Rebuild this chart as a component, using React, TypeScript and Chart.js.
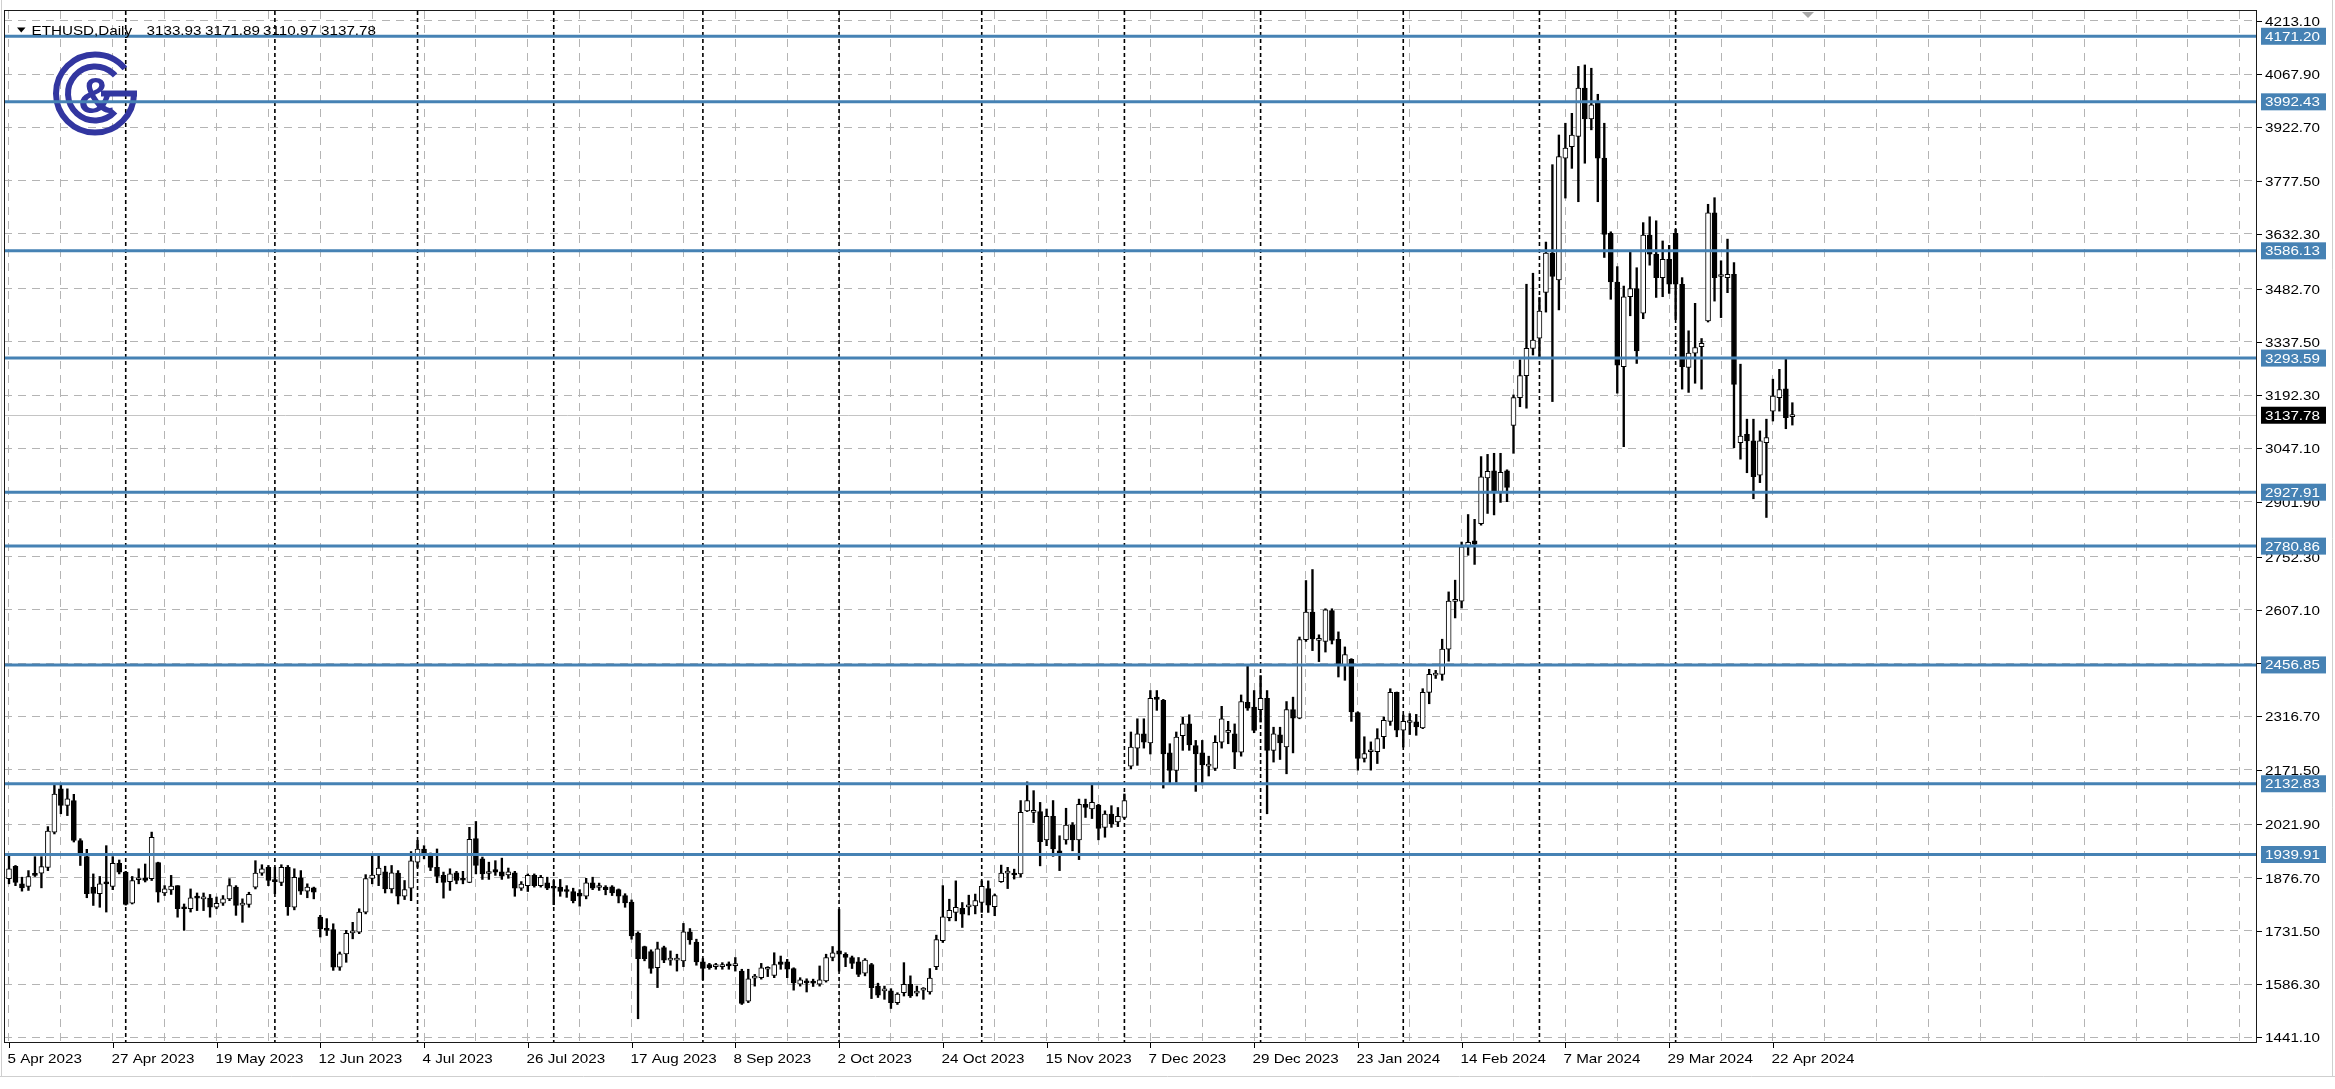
import React, { useEffect, useRef } from "react";
import { Chart, registerables } from "chart.js";

Chart.register(...registerables);

// ---------- data (daily ETHUSD, weekdays only) ----------
const opens = [
  1874, 1908, 1860, 1853, 1887, 1889, 1905, 2001, 2119, 2074,
  2087, 1978, 1934, 1851, 1833, 1862, 1853, 1916, 1892, 1807,
  1871, 1876, 1874, 1918, 1835, 1843, 1855, 1794, 1792, 1822,
  1819, 1821, 1796, 1807, 1819, 1851, 1802, 1804, 1851, 1889,
  1905, 1867, 1864, 1905, 1796, 1876, 1840, 1849, 1769, 1735,
  1735, 1633, 1669, 1726, 1728, 1783, 1875, 1884, 1893, 1846,
  1889, 1826, 1848, 1919, 1955, 1939, 1905, 1883, 1866, 1890,
  1872, 1864, 1983, 1928, 1888, 1899, 1893, 1884, 1890, 1848,
  1855, 1883, 1855, 1863, 1849, 1851, 1842, 1839, 1835, 1826,
  1863, 1850, 1851, 1852, 1844, 1828, 1810, 1725, 1689, 1675,
  1631, 1686, 1652, 1652, 1650, 1729, 1701, 1647, 1640, 1634,
  1634, 1640, 1637, 1622, 1540, 1603, 1604, 1627, 1610, 1647,
  1647, 1629, 1586, 1592, 1590, 1586, 1595, 1659, 1677, 1668,
  1659, 1647, 1616, 1640, 1581, 1568, 1568, 1536, 1563, 1586,
  1562, 1570, 1565, 1634, 1705, 1768, 1782, 1793, 1797, 1800,
  1809, 1847, 1798, 1866, 1889, 1889, 1887, 2059, 2055, 2057,
  1980, 2044, 1950, 1980, 2020, 1980, 2077, 2064, 2075, 2014,
  2050, 2029, 2041, 2181, 2230, 2269, 2244, 2369, 2360, 2217,
  2169, 2264, 2296, 2237, 2217, 2181, 2175, 2246, 2273, 2269,
  2219, 2355, 2342, 2335, 2366, 2224, 2266, 2233, 2335, 2312,
  2526, 2601, 2524, 2521, 2605, 2527, 2456, 2472, 2327, 2202,
  2220, 2220, 2261, 2303, 2382, 2279, 2300, 2302, 2285, 2382,
  2429, 2431, 2500, 2630, 2631, 2779, 2795, 2842, 2967, 2986,
  2928, 2986, 3110, 3186, 3246, 3320, 3348, 3473, 3580, 3507,
  3839, 3870, 3898, 4030, 3946, 3993, 3839, 3634, 3501, 3270,
  3461, 3483, 3416, 3629, 3577, 3513, 3563, 3634, 3495, 3268,
  3307, 3325, 3395, 3690, 3516, 3513, 3522, 3063, 3086, 3068,
  2974, 3063, 3149, 3186, 3210, 3133.93,
];
const highs = [
  1942, 1910, 1878, 1896, 1934, 1934, 2016, 2133, 2131, 2119,
  2104, 1983, 1954, 1887, 1880, 1964, 1934, 1925, 1894, 1880,
  1901, 1914, 2001, 1919, 1855, 1883, 1855, 1805, 1846, 1835,
  1835, 1831, 1824, 1828, 1874, 1855, 1819, 1837, 1923, 1912,
  1910, 1905, 1912, 1910, 1901, 1896, 1860, 1851, 1774, 1765,
  1751, 1674, 1733, 1755, 1792, 1885, 1937, 1939, 1908, 1910,
  1896, 1869, 1948, 1978, 1964, 1944, 1955, 1892, 1901, 1894,
  1894, 2014, 2030, 1933, 1919, 1923, 1930, 1903, 1894, 1866,
  1887, 1887, 1883, 1878, 1869, 1872, 1855, 1848, 1844, 1875,
  1878, 1862, 1855, 1855, 1846, 1833, 1816, 1729, 1690, 1680,
  1701, 1690, 1677, 1668, 1752, 1738, 1709, 1656, 1643, 1643,
  1645, 1647, 1659, 1627, 1627, 1613, 1643, 1634, 1672, 1663,
  1654, 1631, 1604, 1601, 1600, 1636, 1668, 1689, 1790, 1672,
  1663, 1659, 1656, 1643, 1589, 1581, 1574, 1563, 1645, 1609,
  1581, 1577, 1629, 1720, 1855, 1818, 1868, 1809, 1829, 1832,
  1868, 1868, 1832, 1911, 1905, 1900, 2087, 2138, 2114, 2082,
  2064, 2087, 1991, 2066, 2027, 2091, 2091, 2132, 2077, 2059,
  2073, 2068, 2105, 2274, 2310, 2310, 2387, 2387, 2363, 2242,
  2274, 2314, 2321, 2251, 2251, 2208, 2264, 2344, 2303, 2296,
  2375, 2455, 2387, 2428, 2387, 2287, 2287, 2357, 2369, 2533,
  2687, 2717, 2539, 2610, 2610, 2547, 2506, 2474, 2329, 2261,
  2247, 2283, 2315, 2392, 2383, 2320, 2324, 2322, 2392, 2445,
  2442, 2527, 2656, 2688, 2792, 2867, 2854, 3025, 3031, 3034,
  3034, 2989, 3193, 3289, 3495, 3525, 3459, 3610, 3821, 3902,
  3934, 3961, 4089, 4093, 4084, 4013, 3934, 3638, 3543, 3490,
  3586, 3540, 3663, 3679, 3668, 3613, 3601, 3645, 3513, 3368,
  3443, 3347, 3713, 3731, 3559, 3618, 3554, 3277, 3127, 3127,
  3095, 3127, 3236, 3263, 3292, 3171.89,
];
const lows = [
  1860, 1855, 1840, 1842, 1880, 1849, 1896, 1996, 2051, 2046,
  1974, 1910, 1822, 1801, 1796, 1783, 1844, 1887, 1802, 1805,
  1860, 1865, 1869, 1810, 1828, 1831, 1769, 1733, 1783, 1787,
  1787, 1769, 1792, 1801, 1814, 1774, 1755, 1796, 1846, 1883,
  1855, 1833, 1855, 1774, 1789, 1831, 1822, 1819, 1715, 1719,
  1624, 1624, 1646, 1710, 1724, 1778, 1860, 1855, 1835, 1835,
  1805, 1817, 1814, 1905, 1928, 1896, 1863, 1821, 1842, 1860,
  1860, 1863, 1887, 1872, 1872, 1883, 1872, 1875, 1826, 1842,
  1839, 1851, 1851, 1844, 1803, 1826, 1823, 1808, 1799, 1819,
  1844, 1842, 1830, 1828, 1808, 1796, 1709, 1492, 1650, 1616,
  1577, 1645, 1638, 1622, 1634, 1695, 1638, 1598, 1627, 1627,
  1627, 1627, 1622, 1531, 1536, 1581, 1600, 1607, 1604, 1627,
  1604, 1570, 1581, 1565, 1580, 1581, 1592, 1650, 1622, 1634,
  1629, 1607, 1609, 1547, 1550, 1545, 1520, 1531, 1554, 1550,
  1554, 1545, 1559, 1626, 1700, 1759, 1759, 1741, 1775, 1778,
  1782, 1782, 1773, 1864, 1847, 1873, 1878, 2057, 2027, 1909,
  1964, 1935, 1896, 1968, 1950, 1926, 2041, 2038, 1980, 1987,
  2014, 2016, 2037, 2174, 2183, 2230, 2214, 2333, 2121, 2133,
  2137, 2224, 2224, 2112, 2130, 2154, 2169, 2230, 2242, 2174,
  2208, 2333, 2272, 2301, 2051, 2192, 2199, 2160, 2217, 2310,
  2521, 2496, 2466, 2492, 2514, 2424, 2415, 2303, 2170, 2192,
  2170, 2188, 2229, 2292, 2261, 2233, 2267, 2265, 2283, 2351,
  2420, 2415, 2467, 2585, 2612, 2756, 2731, 2838, 2870, 2866,
  2900, 2902, 3034, 3161, 3157, 3302, 3293, 3419, 3175, 3425,
  3730, 3811, 3720, 3825, 3916, 3720, 3568, 3454, 3198, 3052,
  3409, 3279, 3401, 3547, 3459, 3461, 3470, 3399, 3209, 3200,
  3225, 3209, 3392, 3449, 3404, 3472, 3049, 3018, 2981, 2910,
  2954, 2859, 3122, 3149, 3101, 3110.97,
];
const closes = [
  1901, 1864, 1849, 1880, 1883, 1907, 2004, 2105, 2074, 2092,
  1978, 1937, 1833, 1834, 1860, 1860, 1916, 1892, 1804, 1869,
  1874, 1869, 1987, 1837, 1846, 1854, 1792, 1792, 1822, 1821,
  1823, 1796, 1807, 1819, 1855, 1801, 1807, 1831, 1889, 1901,
  1869, 1866, 1905, 1798, 1878, 1840, 1851, 1837, 1737, 1733,
  1633, 1669, 1725, 1730, 1783, 1874, 1884, 1903, 1846, 1890,
  1826, 1844, 1923, 1955, 1942, 1905, 1880, 1864, 1887, 1869,
  1870, 1981, 1910, 1887, 1890, 1892, 1881, 1893, 1848, 1859,
  1883, 1855, 1878, 1848, 1848, 1839, 1839, 1814, 1826, 1863,
  1848, 1851, 1844, 1835, 1826, 1808, 1718, 1656, 1656, 1629,
  1683, 1652, 1652, 1653, 1729, 1707, 1647, 1629, 1631, 1634,
  1635, 1636, 1640, 1534, 1601, 1604, 1631, 1627, 1640, 1640,
  1627, 1590, 1598, 1590, 1589, 1598, 1659, 1672, 1668, 1659,
  1643, 1613, 1652, 1577, 1556, 1568, 1536, 1559, 1586, 1554,
  1563, 1572, 1603, 1708, 1770, 1788, 1796, 1777, 1799, 1814,
  1853, 1802, 1828, 1889, 1889, 1884, 2055, 2087, 2055, 1975,
  2044, 1955, 1941, 2020, 1980, 2077, 2068, 2082, 2011, 2050,
  2023, 2044, 2087, 2233, 2269, 2246, 2366, 2363, 2214, 2169,
  2260, 2296, 2239, 2214, 2184, 2181, 2246, 2310, 2273, 2219,
  2357, 2339, 2278, 2366, 2224, 2269, 2244, 2335, 2312, 2526,
  2601, 2528, 2524, 2607, 2524, 2456, 2485, 2329, 2202, 2215,
  2220, 2256, 2306, 2382, 2279, 2303, 2300, 2288, 2382, 2431,
  2430, 2500, 2631, 2631, 2779, 2791, 2786, 2970, 2985, 2928,
  2982, 2941, 3186, 3246, 3320, 3343, 3422, 3580, 3516, 3843,
  3866, 3902, 4030, 3946, 3984, 3839, 3631, 3501, 3274, 3461,
  3483, 3313, 3629, 3577, 3513, 3563, 3495, 3495, 3270, 3307,
  3322, 3334, 3690, 3513, 3516, 3522, 3222, 3081, 3068, 2970,
  3068, 3077, 3190, 3208, 3131, 3137.78,
];

const xTickLabels = [
  "5 Apr 2023", "27 Apr 2023", "19 May 2023", "12 Jun 2023", "4 Jul 2023",
  "26 Jul 2023", "17 Aug 2023", "8 Sep 2023", "2 Oct 2023", "24 Oct 2023",
  "15 Nov 2023", "7 Dec 2023", "29 Dec 2023", "23 Jan 2024", "14 Feb 2024",
  "7 Mar 2024", "29 Mar 2024", "22 Apr 2024",
];
const priceTicks = [
  4213.10, 4067.90, 3922.70, 3777.50, 3632.30, 3482.70, 3337.50, 3192.30,
  3047.10, 2901.90, 2752.30, 2607.10, 2461.90, 2316.70, 2171.50, 2021.90,
  1876.70, 1731.50, 1586.30, 1441.10,
];
const levelLines = [4171.20, 3992.43, 3586.13, 3293.59, 2927.91, 2780.86, 2456.85, 2132.83, 1939.91];
const lastPrice = 3137.78;
const monthStartBars = [18, 41, 63, 84, 107, 128, 150, 172, 193, 215, 236, 257];
const symbolTitle = "ETHUSD,Daily";
const titleValues = ["3133.93", "3171.89", "3110.97", "3137.78"];

// ---------- layout / style ----------
const W = 2335;
const H = 1089;
const BARS_PER_LABEL = 16;
const BARS_PER_GRID = 8;
const X_MIN = -0.771;
const X_MAX = 346.65;
const Y_MIN = 1425.9;
const Y_MAX = 4240.1;
const GRID = "#b4b4b4";
const LEVEL = "#4682b4";
const FONT = '13px "Liberation Sans", Arial, sans-serif';
const HS = 1.17;

function txt(ctx: CanvasRenderingContext2D, s: string, x: number, y: number, color: string) {
  ctx.save();
  ctx.translate(x, y);
  ctx.scale(HS, 1);
  ctx.font = FONT;
  ctx.fillStyle = color;
  ctx.textAlign = "left";
  ctx.textBaseline = "alphabetic";
  ctx.fillText(s, 0, 0);
  ctx.restore();
}

const overlay = {
  id: "mt5overlay",
  beforeDatasetsDraw(chart: any) {
    const { ctx, chartArea: a, scales } = chart;
    const xs = scales.x;
    const ys = scales.y;
    ctx.save();
    // bid line
    const yp = Math.round(ys.getPixelForValue(lastPrice)) + 0.5;
    ctx.strokeStyle = "#c4c4c4";
    ctx.lineWidth = 1;
    ctx.beginPath();
    ctx.moveTo(a.left, yp);
    ctx.lineTo(a.right, yp);
    ctx.stroke();
    // period separators
    ctx.strokeStyle = "#000";
    ctx.lineWidth = 1.6;
    ctx.setLineDash([4, 3]);
    monthStartBars.forEach((i) => {
      const px = xs.getPixelForValue(i);
      ctx.beginPath();
      ctx.moveTo(px, a.top);
      ctx.lineTo(px, a.bottom);
      ctx.stroke();
    });
    ctx.setLineDash([]);
    // logo
    const cx = 95, cy = 93.5;
    ctx.strokeStyle = "#3236a0";
    ctx.fillStyle = "#3236a0";
    ctx.lineWidth = 6;
    ctx.beginPath();
    ctx.arc(cx, cy, 39, 0, (320 / 180) * Math.PI);
    ctx.stroke();
    ctx.beginPath();
    ctx.moveTo(cx + 6, cy);
    ctx.lineTo(cx + 42, cy);
    ctx.stroke();
    ctx.beginPath();
    ctx.arc(cx, cy, 27, (42 / 180) * Math.PI, (318 / 180) * Math.PI);
    ctx.stroke();
    ctx.font = 'bold 50px "Liberation Sans", Arial, sans-serif';
    ctx.textAlign = "center";
    ctx.textBaseline = "alphabetic";
    ctx.fillText("&", cx + 1, cy + 19);
    ctx.restore();
  },
  afterDatasetsDraw(chart: any) {
    const { ctx, chartArea: a, scales } = chart;
    const ys = scales.y;
    ctx.save();
    ctx.strokeStyle = LEVEL;
    ctx.lineWidth = 3;
    levelLines.forEach((v) => {
      const py = ys.getPixelForValue(v);
      ctx.beginPath();
      ctx.moveTo(a.left, py);
      ctx.lineTo(a.right, py);
      ctx.stroke();
    });
    ctx.restore();
  },
  afterDraw(chart: any) {
    const { ctx, chartArea: a, scales } = chart;
    const xs = scales.x;
    const ys = scales.y;
    ctx.save();
    // outer window borders
    ctx.strokeStyle = "#cfcfcf";
    ctx.lineWidth = 1;
    ctx.beginPath();
    ctx.moveTo(0, 1076.5);
    ctx.lineTo(W, 1076.5);
    ctx.moveTo(2332.5, 0);
    ctx.lineTo(2332.5, 1077);
    ctx.moveTo(1.5, 0);
    ctx.lineTo(1.5, 1077);
    ctx.stroke();
    // frame
    ctx.strokeStyle = "#1a1a1a";
    ctx.lineWidth = 1;
    ctx.strokeRect(a.left + 0.5, a.top - 0.5, a.right - a.left - 1, a.bottom - a.top);
    // price axis ticks and labels
    ctx.strokeStyle = "#000";
    priceTicks.forEach((v) => {
      const py = Math.round(ys.getPixelForValue(v)) + 0.5;
      ctx.beginPath();
      ctx.moveTo(a.right, py);
      ctx.lineTo(a.right + 5, py);
      ctx.stroke();
      txt(ctx, v.toFixed(2), a.right + 8, py + 4.5, "#000");
    });
    // level labels
    levelLines.forEach((v) => {
      const py = ys.getPixelForValue(v);
      ctx.fillStyle = LEVEL;
      ctx.fillRect(a.right + 4, py - 8.5, 65, 17);
      txt(ctx, v.toFixed(2), a.right + 8, py + 4.5, "#fff");
    });
    {
      const py = ys.getPixelForValue(lastPrice);
      ctx.fillStyle = "#000";
      ctx.fillRect(a.right + 4, py - 8.5, 65, 17);
      txt(ctx, lastPrice.toFixed(2), a.right + 8, py + 4.5, "#fff");
    }
    // time axis ticks and labels
    xTickLabels.forEach((lab, k) => {
      const px = Math.round(xs.getPixelForValue(k * BARS_PER_LABEL)) + 0.5;
      ctx.strokeStyle = "#000";
      ctx.beginPath();
      ctx.moveTo(px, a.bottom);
      ctx.lineTo(px, a.bottom + 5);
      ctx.stroke();
      txt(ctx, lab, px - 2, a.bottom + 20, "#000");
    });
    // chart shift marker
    ctx.fillStyle = "#a8a8a8";
    ctx.beginPath();
    ctx.moveTo(1802, a.top + 1);
    ctx.lineTo(1814, a.top + 1);
    ctx.lineTo(1808, a.top + 7);
    ctx.closePath();
    ctx.fill();
    // title
    ctx.fillStyle = "#000";
    ctx.beginPath();
    ctx.moveTo(17, 27.5);
    ctx.lineTo(25.5, 27.5);
    ctx.lineTo(21.25, 32.5);
    ctx.closePath();
    ctx.fill();
    txt(ctx, symbolTitle, 31.5, 34.5, "#000");
    const tx = [146.5, 205, 263, 321];
    titleValues.forEach((s, i) => txt(ctx, s, tx[i], 34.5, "#000"));
    ctx.restore();
  },
};

export default function App() {
  const ref = useRef<HTMLCanvasElement | null>(null);
  useEffect(() => {
    const canvas = ref.current;
    if (!canvas) return;
    const idx = closes.map((_, i) => i);
    const wickData = idx.map((i) => ({ x: i, y: [lows[i], highs[i]] }));
    const bodyData = idx.map((i) => ({
      x: i,
      y: [Math.min(opens[i], closes[i]), Math.max(opens[i], closes[i])],
    }));
    const bodyColors = idx.map((i) => (closes[i] >= opens[i] ? "#ffffff" : "#000000"));
    const gridTicks: { value: number }[] = [];
    for (let v = 0; v <= X_MAX; v += BARS_PER_GRID) gridTicks.push({ value: v });

    const chart = new Chart(canvas, {
      type: "bar",
      data: {
        datasets: [
          {
            label: "body",
            data: bodyData as any,
            backgroundColor: bodyColors,
            borderColor: "#000",
            borderWidth: 1,
            borderSkipped: false,
            barThickness: 5,
            minBarLength: 2,
            grouped: false,
          } as any,
          {
            label: "wick",
            data: wickData as any,
            backgroundColor: "#000",
            borderWidth: 0,
            barThickness: 1.7,
            grouped: false,
          } as any,
        ],
      },
      options: {
        animation: false,
        responsive: false,
        devicePixelRatio: 1,
        layout: { padding: { left: 4, top: 11, right: 0, bottom: 0 } },
        plugins: {
          legend: { display: false },
          tooltip: { enabled: false },
          title: { display: false },
        },
        scales: {
          x: {
            type: "linear",
            min: X_MIN,
            max: X_MAX,
            offset: false,
            afterBuildTicks: (s: any) => {
              s.ticks = gridTicks.map((t) => ({ value: t.value }));
            },
            afterFit: (s: any) => {
              s.height = H - 1043;
            },
            ticks: { display: false },
            grid: { color: GRID, lineWidth: 1, drawTicks: false, offset: false },
            border: { display: false, dash: [8, 6] },
          },
          y: {
            type: "linear",
            position: "right",
            min: Y_MIN,
            max: Y_MAX,
            beginAtZero: false,
            afterBuildTicks: (s: any) => {
              s.ticks = priceTicks.map((v) => ({ value: v }));
            },
            afterFit: (s: any) => {
              s.width = W - 2257;
            },
            ticks: { display: false },
            grid: { color: GRID, lineWidth: 1, drawTicks: false },
            border: { display: false, dash: [8, 6] },
          },
        } as any,
      },
      plugins: [overlay],
    });
    return () => chart.destroy();
  }, []);

  return (
    <div style={{ position: "absolute", left: 0, top: 0, width: W, height: H, background: "#fff" }}>
      <canvas ref={ref} width={W} height={H} style={{ display: "block", width: W, height: H }} />
    </div>
  );
}
